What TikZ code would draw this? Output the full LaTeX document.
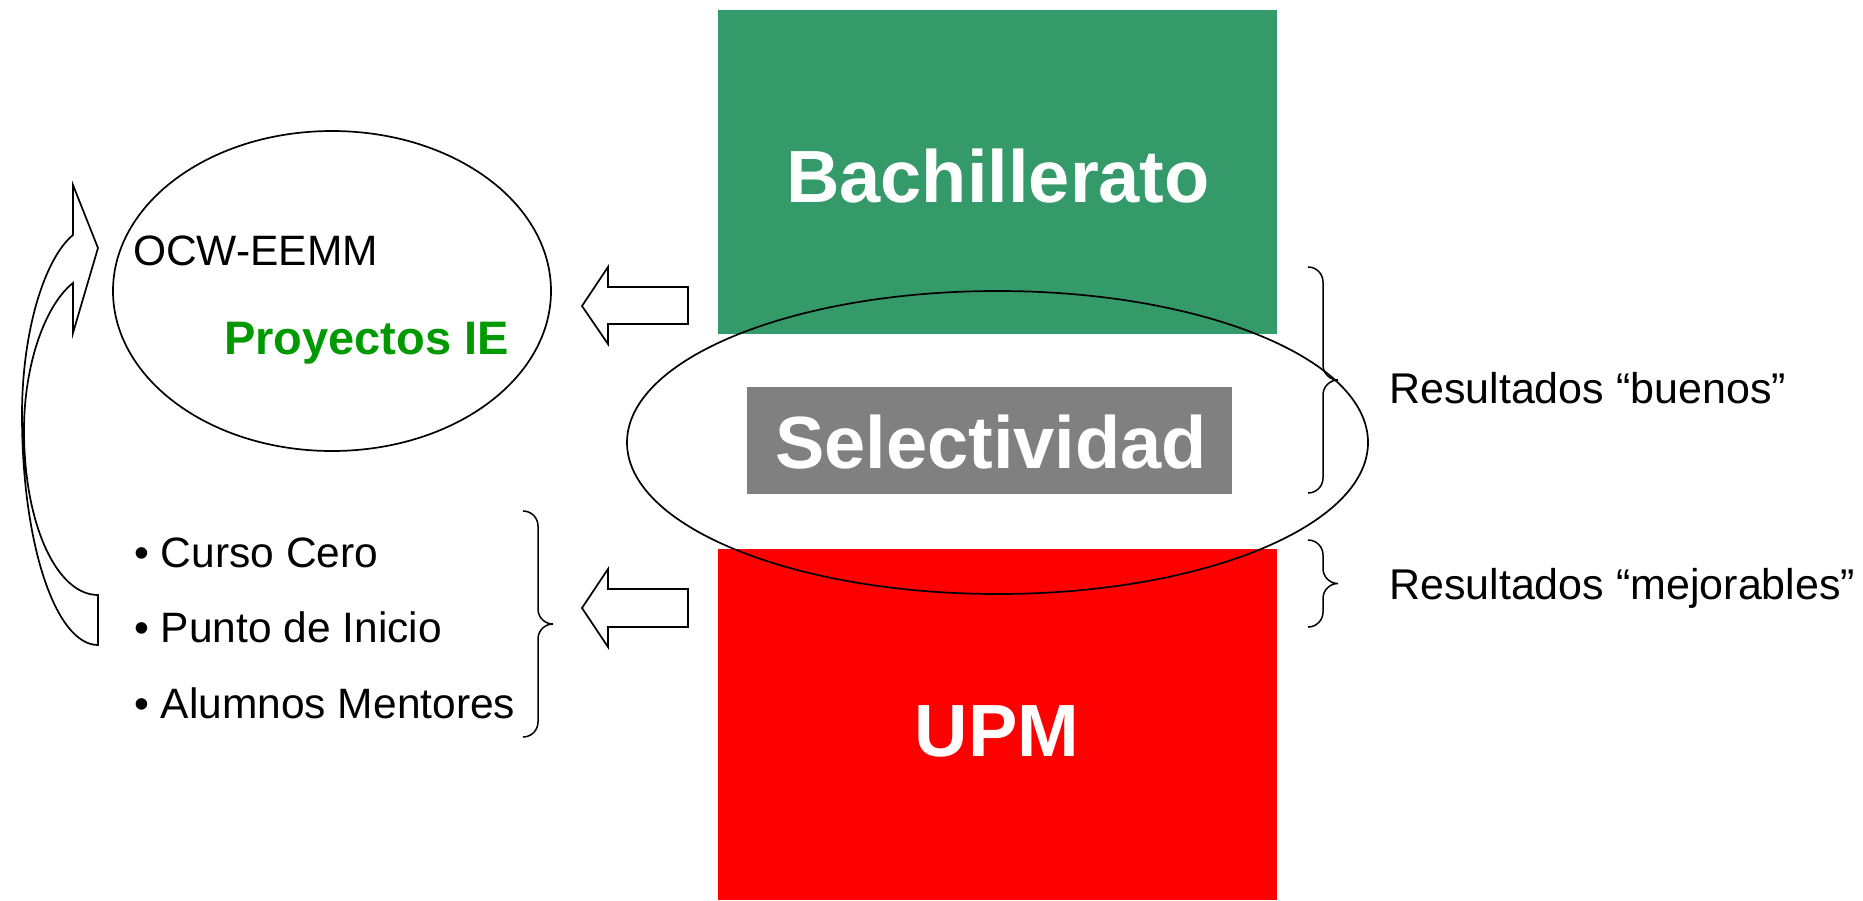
\documentclass[tikz,border=0pt]{standalone}
\usepackage{fontspec}
\setmainfont{Liberation Sans}
\usetikzlibrary{shapes.geometric}
\definecolor{bachgreen}{RGB}{52,154,106}
\definecolor{upmred}{RGB}{255,0,0}
\definecolor{selgray}{RGB}{128,128,128}
\definecolor{proygreen}{RGB}{0,153,0}
\begin{document}
\begin{tikzpicture}[x=1pt,y=-1pt,
  outline/.style={draw=black, line width=1.7pt, line join=miter},
  blockfill/.style={inner sep=0pt, outer sep=0pt, anchor=north west},
  bigtxt/.style={font=\fontsize{74}{80}\selectfont\bfseries, text=white, inner sep=0pt},
  txt/.style={font=\fontsize{42.5}{48}\selectfont, text=black, inner sep=0pt, anchor=base west},
  bracestyle/.style={draw=black, line width=1.5pt}]
\useasboundingbox[fill=white] (0,0) rectangle (1863,900);

% coloured blocks
\node[blockfill, fill=bachgreen, minimum width=559pt, minimum height=324pt] (bach) at (718,10) {};
\node[blockfill, fill=upmred, minimum width=559pt, minimum height=351pt] (upm) at (718,549) {};
\node[bigtxt] (bacht) at (998,176) {Bachillerato};
\node[bigtxt] (upmt) at (997,731) {UPM};

% selectividad
\node[blockfill, fill=selgray, minimum width=485pt, minimum height=107pt] (selbox) at (747,387) {};
\node[bigtxt] (selt) at (991,442) {Selectividad};
\node[ellipse, outline, inner sep=0pt, minimum width=741pt, minimum height=303pt] (selell) at (997.5,442.5) {};

% left ellipse
\node[ellipse, outline, inner sep=0pt, minimum width=438pt, minimum height=320pt] (ocwell) at (332,291) {};
\node[txt] (ocw) at (133,265) {OCW-EEMM};
\node[txt, text=proygreen, font=\fontsize{47}{52}\selectfont\bfseries] (proy) at (224,354) {Proyectos IE};

% bullet list
\node[txt] (b1) at (134,567) {\textbullet\ Curso Cero};
\node[txt] (b2) at (134,642) {\textbullet\ Punto de Inicio};
\node[txt] (b3) at (134,718) {\textbullet\ Alumnos Mentores};

% right texts
\node[txt, font=\fontsize{43}{48}\selectfont] (r1) at (1389,403) {Resultados “buenos”};
\node[txt, font=\fontsize{43}{48}\selectfont] (r2) at (1389,599) {Resultados “mejorables”};

% block arrows
\coordinate (a1) at (582,306);
\draw[outline] (688,287) -- (608,287) -- (608,267) -- (a1) -- (608,344) -- (608,324) -- (688,324) -- cycle;
\coordinate (a2) at (582,608);
\draw[outline] (688,589) -- (608,589) -- (608,569) -- (a2) -- (608,647) -- (608,627) -- (688,627) -- cycle;

% curved arrow
\coordinate (ctip) at (98,248);
\draw[outline] (98,645) .. controls (56,645) and (22,545) .. (22,415)
  .. controls (22,330) and (45,258) .. (73,235) -- (73,185) -- (ctip) -- (73,333) -- (73,283)
  .. controls (45,305) and (24,365) .. (24,430)
  .. controls (24,525) and (57,595) .. (98,595) -- cycle;

% braces (right-pointing)
\def\rbrace#1#2#3#4{% x0, ytop, ybottom, depth
  \pgfmathsetmacro\r{#4/2}
  \pgfmathsetmacro\ym{(#2+#3)/2}
  \draw[bracestyle] (#1,#2) to[out=0,in=90] (#1+\r,#2+\r) -- (#1+\r,\ym-\r)
    to[out=-90,in=180] (#1+#4,\ym) to[out=180,in=90] (#1+\r,\ym+\r)
    -- (#1+\r,#3-\r) to[out=-90,in=0] (#1,#3);}
\rbrace{1308}{267}{493}{30}
\rbrace{1308}{540}{627}{30}
\rbrace{523}{511}{737}{30}
\end{tikzpicture}
\end{document}
